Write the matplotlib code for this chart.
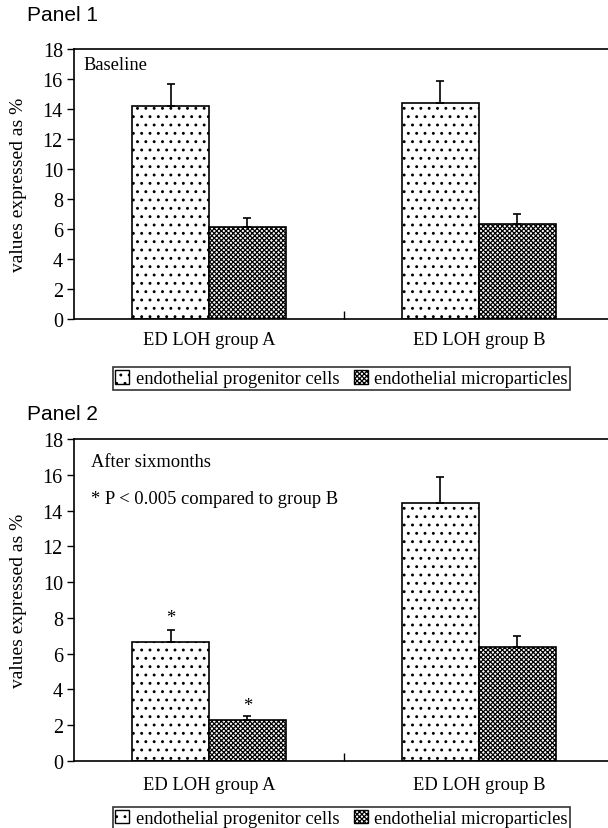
import matplotlib
matplotlib.use("Agg")
import matplotlib.pyplot as plt
import matplotlib.patches as mpatches
import numpy as np

plt.rcParams['font.family'] = ['Liberation Serif', 'DejaVu Serif']
plt.rcParams['hatch.linewidth'] = 0.9

groups = ['ED LOH group A', 'ED LOH group B']
series_names = ['endothelial progenitor cells', 'endothelial microparticles']

# panel 1 - baseline
p1_epc = [14.2, 14.4]
p1_epc_err = [1.45, 1.45]
p1_emp = [6.15, 6.3]
p1_emp_err = [0.55, 0.7]

# panel 2 - after six months
p2_epc = [6.65, 14.4]
p2_epc_err = [0.65, 1.45]
p2_emp = [2.3, 6.35]
p2_emp_err = [0.2, 0.65]
p2_stars_epc = ['*', '']
p2_stars_emp = ['*', '']

FS = 13.3
fig = plt.figure(figsize=(6.08, 8.29), dpi=100)


def draw_panel(ax, epc, epc_err, emp, emp_err, stars_epc=None, stars_emp=None):
    x = np.arange(len(groups))
    w = 0.285
    ax.bar(x - w / 2, epc, w, color='white', edgecolor='black', hatch='..', linewidth=1.2)
    ax.bar(x + w / 2, emp, w, color='white', edgecolor='black', hatch='xxxxxxx', linewidth=1.2)
    ax.errorbar(x - w / 2, epc, yerr=[np.zeros(len(epc)), epc_err], fmt='none',
                ecolor='black', elinewidth=1.2, capsize=3, capthick=1.2)
    ax.errorbar(x + w / 2, emp, yerr=[np.zeros(len(emp)), emp_err], fmt='none',
                ecolor='black', elinewidth=1.2, capsize=3, capthick=1.2)
    # significance stars above the error bars
    if stars_epc:
        for i, s in enumerate(stars_epc):
            if s:
                ax.annotate(s, (x[i] - w / 2, epc[i] + epc_err[i]), xytext=(0, 3),
                            textcoords='offset points', ha='center', va='bottom', fontsize=FS)
    if stars_emp:
        for i, s in enumerate(stars_emp):
            if s:
                ax.annotate(s, (x[i] + w / 2, emp[i] + emp_err[i]), xytext=(0, 2),
                            textcoords='offset points', ha='center', va='bottom', fontsize=FS)
    ax.set_xlim(-0.5, 1.5)
    ax.set_ylim(0, 18)
    ax.set_yticks(range(0, 19, 2))
    ax.tick_params(axis='y', direction='out', length=5, width=1.0, labelsize=14.5, pad=3)
    ax.set_xticks([0.5])
    ax.set_xticklabels([''])
    ax.tick_params(axis='x', direction='in', length=6, width=1.0)
    for i, g in enumerate(groups):
        ax.text(x[i], -0.045, g, transform=ax.get_xaxis_transform(),
                ha='center', va='top', fontsize=FS)
    for s in ax.spines.values():
        s.set_linewidth(1.2)
    ax.set_ylabel('values expressed as %', fontsize=14)
    ax.yaxis.set_label_coords(-0.087, 0.5)


def add_legend(y):
    handles = [mpatches.Patch(facecolor='white', edgecolor='black', hatch='..'),
               mpatches.Patch(facecolor='white', edgecolor='black', hatch='xxxxxxx')]
    leg = fig.legend(handles, series_names, loc='center', bbox_to_anchor=(0.5617, y),
                     ncol=2, fontsize=FS, frameon=True, fancybox=False, edgecolor='black',
                     handlelength=0.75, handleheight=0.75, handletextpad=0.35,
                     columnspacing=0.8, borderpad=0.15, borderaxespad=0)
    leg.get_frame().set_linewidth(1.2)


ax1 = fig.add_axes([0.1217, 0.614, 0.888, 0.3257])
draw_panel(ax1, p1_epc, p1_epc_err, p1_emp, p1_emp_err)
ax1.text(0.017, 0.944, 'Baseline', transform=ax1.transAxes, ha='left', va='center', fontsize=FS)
add_legend(0.542)

ax2 = fig.add_axes([0.1217, 0.0808, 0.888, 0.3884])
draw_panel(ax2, p2_epc, p2_epc_err, p2_emp, p2_emp_err, p2_stars_epc, p2_stars_emp)
ax2.text(0.031, 0.929, 'After sixmonths', transform=ax2.transAxes, ha='left', va='center', fontsize=FS)
ax2.text(0.031, 0.814, '* P < 0.005 compared to group B', transform=ax2.transAxes,
         ha='left', va='center', fontsize=FS)
add_legend(0.0115)

fig.text(0.044, 0.981, 'Panel 1', family='Liberation Sans', fontsize=15, ha='left', va='center')
fig.text(0.044, 0.500, 'Panel 2', family='Liberation Sans', fontsize=15, ha='left', va='center')

fig.savefig('out.png', dpi=100)
